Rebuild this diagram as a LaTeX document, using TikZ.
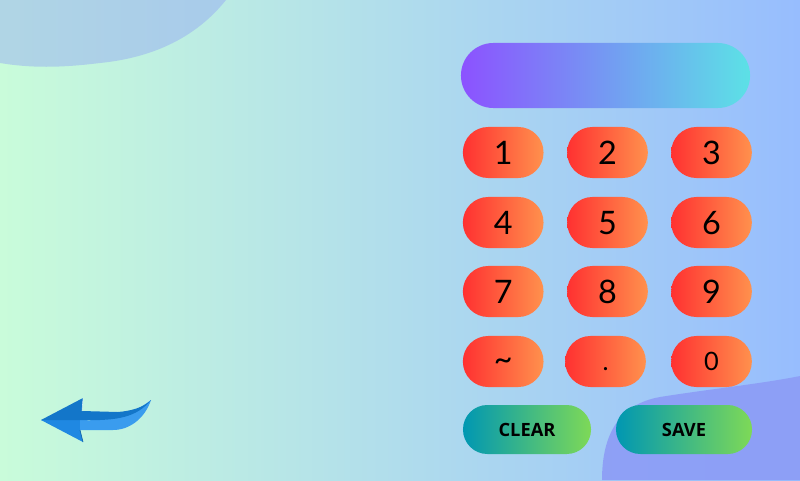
\documentclass[tikz,border=0pt]{standalone}
\usepackage{fontspec}
\setmainfont{Lato}
\newfontfamily\labelfont{Open Sans}
\definecolor{bgleft}{HTML}{C9FCDA}
\definecolor{bgright}{HTML}{97BDFE}
\definecolor{blobcol}{HTML}{8C9CF6}
\definecolor{keyleft}{HTML}{FF3131}
\definecolor{keyright}{HTML}{FF914D}
\definecolor{btnleft}{HTML}{0097B2}
\definecolor{btnright}{HTML}{7ED957}
\definecolor{displeft}{HTML}{8C52FF}
\definecolor{dispright}{HTML}{5CE1E6}
\definecolor{arrowdark}{HTML}{1376C9}
\definecolor{arrowmid}{HTML}{1F88E2}
\definecolor{arrowlight}{HTML}{3A9CEE}
\definecolor{arrowedge}{HTML}{0E5FA8}

\begin{document}
\begin{tikzpicture}[x=0.025cm,y=-0.025cm,
        keybox/.style={rectangle,inner sep=0pt,minimum width=2.015cm,minimum height=1.275cm,
            rounded corners=0.63cm,left color=keyleft,right color=keyright,
            text=black,font=\fontsize{23}{24}\selectfont,text height=0.575cm,text depth=0pt},
        smallkey/.style={keybox,font=\fontsize{18}{20}\selectfont,text height=0.45cm},
        actionbox/.style={rectangle,inner sep=0pt,minimum height=1.225cm,
            rounded corners=0.61cm,left color=btnleft,right color=btnright,
            text=black,font=\labelfont\bfseries\fontsize{13}{14}\selectfont},
        displaybox/.style={rectangle,inner sep=0pt,minimum width=7.225cm,minimum height=1.625cm,
            rounded corners=0.81cm,left color=displeft,right color=dispright}]
                \useasboundingbox (0,0) rectangle (800,480);
                \shade[left color=bgleft,right color=bgright] (0,0) rectangle (800,480);

                \fill[blobcol,fill opacity=0.4] (0,0)--(0,63) .. controls (30,68) and (60,68) .. (100,63)
                    .. controls (140,59) and (190,45) .. (226,0)--cycle;
                \fill[blobcol,fill opacity=0.9] (602,480) .. controls (602,440) and (615,405) .. (660,397)
                    .. controls (710,389) and (760,384) .. (800,376)--(800,480)--cycle;

                \node[displaybox] (display) at (605.5,75.5) {};

                \node[keybox] (key1) at (503.2,152.5) {1};
                \node[keybox] (key2) at (607.5,152.5) {2};
                \node[keybox] (key3) at (711.5,152.5) {3};
                \node[keybox] (key4) at (503.2,222.5) {4};
                \node[keybox] (key5) at (607.5,222.5) {5};
                \node[keybox] (key6) at (711.5,222.5) {6};
                \node[keybox] (key7) at (503.2,291.5) {7};
                \node[keybox] (key8) at (607.5,291.5) {8};
                \node[keybox] (key9) at (711.5,291.5) {9};
                \node[keybox,text height=0.45cm] (keytilde) at (503.2,361.5) {\char`\~};
                \node[smallkey] (keydot) at (605.5,361.5) {.};
                \node[smallkey] (key0) at (711.5,361.5) {0};

                \node[actionbox,minimum width=3.2cm] (clear) at (527,429.5) {CLEAR};
                \node[actionbox,minimum width=3.4cm] (save) at (684,429.5) {SAVE};

                % back arrow
                \fill[arrowmid] (41,420)--(80,420)--(80,430)--(83,442)--cycle;
                \fill[arrowlight] (80,420) .. controls (100,421) and (125,420) .. (151,400)
                    .. controls (145,418) and (130,430) .. (113,430)--(80,430)--cycle;
                \fill[arrowdark] (41,420)--(83,398)--(82,411)--(118,412)
                    .. controls (130,411) and (143,408) .. (151,400)
                    .. controls (137,417) and (118,421) .. (82,420)--cycle;
                \draw[arrowedge,line width=0.5pt] (80,430)--(83,442);
                \draw[white,line width=0.4pt,opacity=0.7] (83,398)--(82,411);
            \end{tikzpicture}
\end{document}
